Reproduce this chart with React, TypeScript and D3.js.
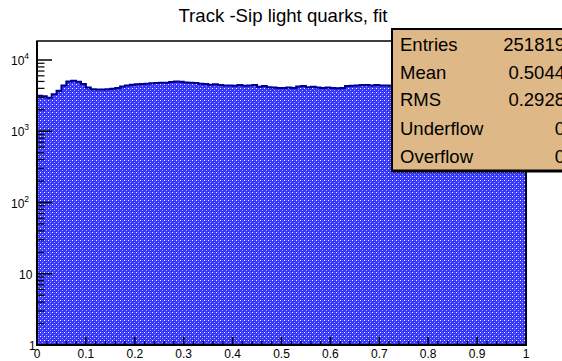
import React from "react";
import * as d3 from "d3";

const title = "Track -Sip light quarks, fit";
const binEdges = { min: 0, max: 1 };
const counts = [
  3150, 3100, 2950, 3300, 3700, 4400, 5000, 5100, 4950, 4600,
  4100, 3900, 3850, 3850, 3880, 3950, 4050, 4250, 4400, 4500,
  4550, 4600, 4650, 4700, 4750, 4800, 4800, 4900, 5000, 4950,
  4850, 4800, 4750, 4650, 4600, 4500, 4550, 4450, 4400, 4400,
  4350, 4450, 4350, 4400, 4450, 4200, 4300, 4150, 4100, 4050,
  4050, 4100, 4050, 4250, 4300, 4150, 4200, 4100, 4050, 4100,
  4050, 4000, 4050, 4300, 4350, 4400, 4450, 4450, 4400, 4450,
  4400, 4400, 4350, 4300, 4350, 4250, 4300, 4200, 4250, 4150,
  4200, 4250, 4150, 4100, 4200, 4150, 4100, 4050, 4100, 4000,
  4050, 3950, 4000, 3900, 3950, 3850, 3900, 3800, 3750, 3700,
];
const xTickLabels = ["0", "0.1", "0.2", "0.3", "0.4", "0.5", "0.6", "0.7", "0.8", "0.9", "1"];
const yDecades = [1, 10, 100, 1000, 10000];
const statNames = ["Entries", "Mean", "RMS", "Underflow", "Overflow"];
const statValues = ["251819", "0.5044", "0.2928", "0", "0"];

const FONT = "'Liberation Sans', Arial, Helvetica, sans-serif";

export default function App() {
  const W = 562, H = 361;
  const left = 37, right = 526, top = 41, bottom = 345;
  const x = d3.scaleLinear().domain([binEdges.min, binEdges.max]).range([left, right]);
  const decadePx = 71.25;
  const yTop = Math.pow(10, (bottom - top) / decadePx);
  const y = d3.scaleLog().domain([1, yTop]).range([bottom, top]);

  const n = counts.length;
  const bw = (binEdges.max - binEdges.min) / n;
  let d = `M${x(0)},${y(1)}`;
  counts.forEach((c, i) => {
    const x0 = x(binEdges.min + i * bw);
    const x1 = x(binEdges.min + (i + 1) * bw);
    d += ` L${x0},${y(c)} L${x1},${y(c)}`;
  });
  d += ` L${x(binEdges.max)},${y(1)}`;
  const fillPath = d + " Z";

  const xMajor = d3.range(0, 11).map((i) => i / 10);
  const xMinor = d3.range(0, 51).map((i) => i / 50).filter((_, i) => i % 5 !== 0);
  const yMinor: number[] = [];
  for (let dec = 1; dec <= 10000; dec *= 10) {
    for (let k = 2; k <= 9; k++) {
      const v = dec * k;
      if (v < yTop) yMinor.push(v);
    }
  }

  const supMap: Record<number, string> = { 100: "2", 1000: "3", 10000: "4" };

  return (
    <svg width={W} height={H} style={{ position: "absolute", left: 0, top: 0, background: "#fff" }}>
      <defs>
        <pattern id="dots" width="4" height="4" patternUnits="userSpaceOnUse">
          <rect width="4" height="4" fill="#3838fa" />
          <rect x="0" y="0" width="1" height="1" fill="#ffffff" />
          <rect x="2" y="2" width="1" height="1" fill="#a8a8ff" />
          <rect x="2" y="0" width="1" height="1" fill="#6060ff" />
        </pattern>
      </defs>
      <rect width={W} height={H} fill="#fff" />
      <text x={283} y={22} textAnchor="middle" fontFamily={FONT} fontSize={18.6} fill="#000">{title}</text>

      <path d={fillPath} fill="url(#dots)" stroke="none" />
      <path d={d} fill="none" stroke="#00008c" strokeWidth={2} />

      {/* frame */}
      <rect x={left} y={top} width={right - left} height={bottom - top} fill="none" stroke="#000" strokeWidth={1.5} />
      <line x1={left} y1={top} x2={left} y2={bottom + 1} stroke="#000" strokeWidth={2} />
      <line x1={left - 1} y1={bottom} x2={right + 1} y2={bottom} stroke="#000" strokeWidth={2} />

      {/* x ticks */}
      {xMajor.map((v, i) => (
        <line key={"xM" + i} x1={x(v)} x2={x(v)} y1={bottom} y2={bottom - 8} stroke="#000" strokeWidth={1.5} />
      ))}
      {xMinor.map((v, i) => (
        <line key={"xm" + i} x1={x(v)} x2={x(v)} y1={bottom} y2={bottom - 4} stroke="#000" strokeWidth={1.2} />
      ))}
      {xMajor.map((v, i) => (
        <text key={"xl" + i} x={x(v)} y={358} textAnchor="middle" fontFamily={FONT} fontSize={12} fill="#000">
          {xTickLabels[i]}
        </text>
      ))}

      {/* y ticks */}
      {yDecades.map((v, i) => (
        <line key={"yM" + i} x1={left} x2={left + 15} y1={y(v)} y2={y(v)} stroke="#000" strokeWidth={1.5} />
      ))}
      {yMinor.map((v, i) => (
        <line key={"ym" + i} x1={left} x2={left + 7.5} y1={y(v)} y2={y(v)} stroke="#000" strokeWidth={1.2} />
      ))}
      {yDecades.map((v, i) => {
        const sup = supMap[v];
        const base = v === 1 ? "1" : "10";
        return (
          <text key={"yl" + i} x={sup ? 11 : v === 10 ? 19 : 29} y={y(v) + 5} fontFamily={FONT} fontSize={12} fill="#000">
            {base}
            {sup && <tspan fontSize={8.5} dy={-6}>{sup}</tspan>}
          </text>
        );
      })}

      {/* stats box */}
      <rect x={392} y={29} width={190} height={142} fill="#deb887" stroke="#000" strokeWidth={2} />
      <line x1={392} y1={171} x2={582} y2={171} stroke="#000" strokeWidth={3} />
      {statNames.map((s, i) => {
        const by = [51, 79, 106, 135, 163][i];
        return (
          <g key={"st" + i}>
            <text x={400} y={by} fontFamily={FONT} fontSize={18.5} fill="#000">{s}</text>
            <text x={565} y={by} textAnchor="end" fontFamily={FONT} fontSize={18.5} fill="#000">{statValues[i]}</text>
          </g>
        );
      })}
    </svg>
  );
}
